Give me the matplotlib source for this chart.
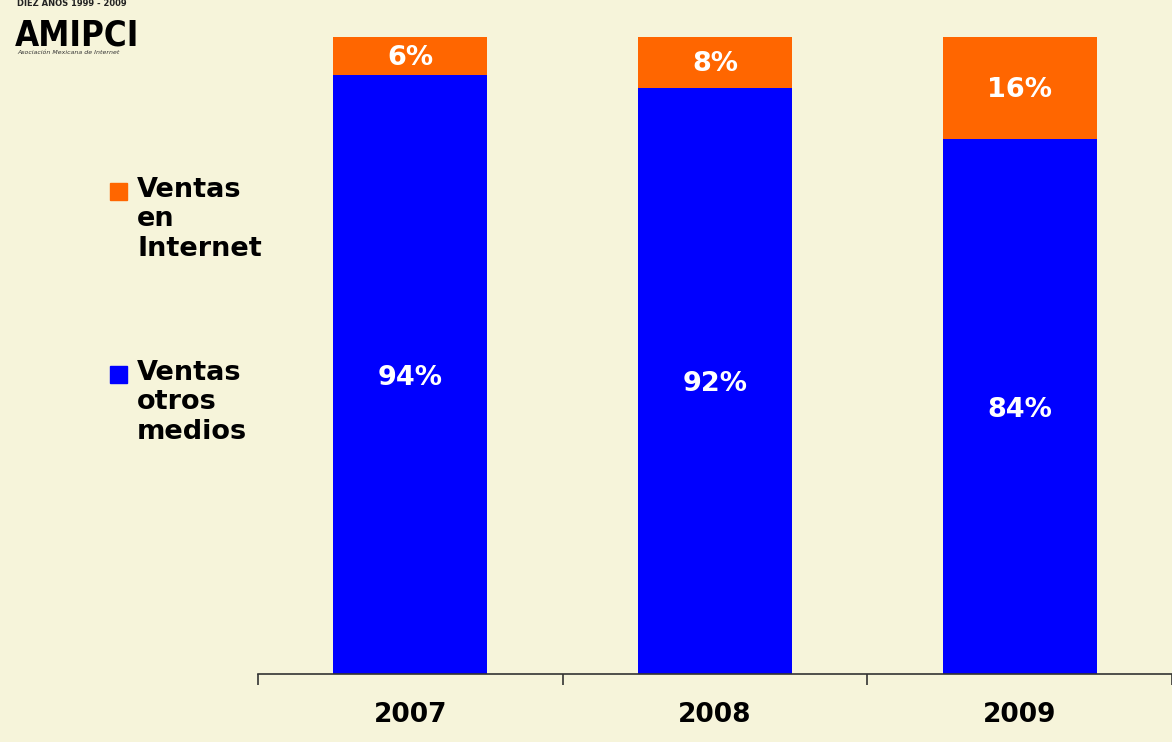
import matplotlib
matplotlib.use("Agg")
import matplotlib.pyplot as plt
import numpy as np

anios = ["2007", "2008", "2009"]
otros_medios = [94, 92, 84]
internet = [6, 8, 16]
etiquetas_otros = ["94%", "92%", "84%"]
etiquetas_internet = ["6%", "8%", "16%"]

AZUL = "#0000FF"
NARANJA = "#FF6600"
FONDO = "#F6F4DA"

fig = plt.figure(figsize=(11.72, 7.42), dpi=100)
fig.patch.set_facecolor(FONDO)

ax = fig.add_axes([0.220, 0.0916, 0.780, 0.8584])
ax.set_facecolor("none")

x = np.arange(len(anios))
ax.bar(x, otros_medios, width=0.505, color=AZUL, zorder=2)
ax.bar(x, internet, width=0.505, bottom=otros_medios, color=NARANJA, zorder=2)

for i in range(len(anios)):
    ax.text(x[i], otros_medios[i] / 2 - 0.5, etiquetas_otros[i], ha="center", va="center",
            color="white", fontsize=19.5, fontweight="bold", zorder=3)
    ax.text(x[i], otros_medios[i] + internet[i] / 2 - 0.3, etiquetas_internet[i], ha="center",
            va="center", color="white", fontsize=19.5, fontweight="bold", zorder=3)

ax.set_xlim(-0.5, 2.5)
ax.set_ylim(0, 100)
for s in ["top", "right", "left"]:
    ax.spines[s].set_visible(False)
ax.spines["bottom"].set_color("#333333")
ax.spines["bottom"].set_linewidth(1.2)
ax.set_yticks([])
ax.set_xticks(x)
ax.set_xticklabels(anios, fontsize=19, fontweight="bold")
ax.tick_params(axis="x", which="major", length=0, pad=20)
ax.set_xticks([-0.5, 0.5, 1.5, 2.5], minor=True)
ax.tick_params(axis="x", which="minor", length=8, width=1.2, color="#333333")

# leyenda
fig.patches.append(plt.Rectangle((110 / 1172, 1 - 200 / 742), 17 / 1172, 17 / 742,
                                 transform=fig.transFigure, color=NARANJA))
fig.text(137 / 1172, 1 - 177 / 742, "Ventas\nen\nInternet", ha="left", va="top",
         fontsize=19.5, fontweight="bold", linespacing=1.17)
fig.patches.append(plt.Rectangle((110 / 1172, 1 - 383 / 742), 17 / 1172, 17 / 742,
                                 transform=fig.transFigure, color=AZUL))
fig.text(137 / 1172, 1 - 360 / 742, "Ventas\notros\nmedios", ha="left", va="top",
         fontsize=19.5, fontweight="bold", linespacing=1.17)

# logo
fig.text(17 / 1172, 1 - 4 / 742, "DIEZ AÑOS 1999 - 2009", ha="left", va="center",
         fontsize=6, fontweight="bold", color="#222222")
fig.text(15 / 1172, 1 - 35 / 742, "AMIPCI", ha="left", va="center",
         fontsize=25, fontweight="heavy", fontstretch="condensed", color="black")
fig.text(17 / 1172, 1 - 53 / 742, "Asociación Mexicana de Internet", ha="left", va="center",
         fontsize=4.5, style="italic", color="#333333")

fig.savefig("out.png", dpi=100, facecolor=FONDO)
